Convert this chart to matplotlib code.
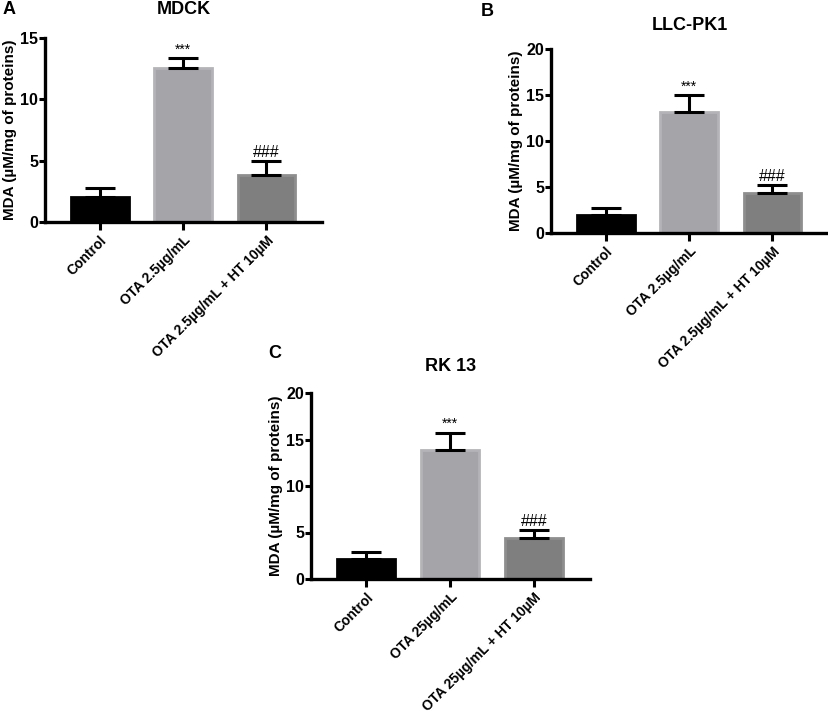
import matplotlib
matplotlib.use("Agg")
import matplotlib.pyplot as plt

plt.rcParams["font.family"] = ["Liberation Sans", "DejaVu Sans"]
plt.rcParams["font.weight"] = "bold"

# values (mean, upper SD)
labels_ab = ["Control", "OTA 2.5µg/mL", "OTA 2.5µg/mL + HT 10µM"]
labels_c = ["Control", "OTA 25µg/mL", "OTA 25µg/mL + HT 10µM"]

mdck_mean = [2.05, 12.55, 3.85]
mdck_err = [0.75, 0.8, 1.15]

llc_mean = [2.0, 13.2, 4.3]
llc_err = [0.75, 1.75, 0.9]

rk_mean = [2.1, 13.9, 4.4]
rk_err = [0.75, 1.85, 0.85]

marks = ["", "***", "###"]

fills = ["#000000", "#a4a4a9", "#7f7f7f"]
edges = ["#000000", "#b4b4b8", "#8e8e8e"]

W, H = 829, 715
fig = plt.figure(figsize=(W / 100, H / 100), dpi=100)


def box(x0, x1, ytop, ybot):
    return [x0 / W, 1 - ybot / H, (x1 - x0) / W, (ybot - ytop) / H]


def panel(rect, means, errs, labels, title, ymax, ystep, tpad):
    ax = fig.add_axes(rect)
    x = range(len(means))
    ax.bar(x, means, width=0.69, color=fills, edgecolor=edges, linewidth=2, zorder=2)
    ax.errorbar(x, means, yerr=[[0] * len(errs), errs], fmt="none", ecolor="black",
                elinewidth=2.2, capsize=10.5, capthick=2.2, zorder=3)
    for i, (m, e, t) in enumerate(zip(means, errs, marks)):
        if t == "***":
            ax.text(i, m + e + ymax * 0.008, t, ha="center", va="bottom", fontsize=10,
                    fontweight="normal")
        elif t:
            ax.text(i, m + e + ymax * 0.004, t, ha="center", va="bottom", fontsize=11.5,
                    fontweight="normal")
    ax.set_xlim(-0.66, 2.67)
    ax.set_ylim(0, ymax)
    ax.set_yticks(range(0, ymax + 1, ystep))
    ax.set_xticks(list(x))
    ax.set_xticklabels(labels, rotation=45, ha="right", rotation_mode="anchor",
                       fontsize=10, fontweight="bold")
    for s in ["top", "right"]:
        ax.spines[s].set_visible(False)
    for s in ["left", "bottom"]:
        ax.spines[s].set_linewidth(2.4)
    ax.tick_params(axis="y", length=4, width=2.2, labelsize=11.5, pad=1)
    ax.tick_params(axis="x", length=6, width=2.2, pad=2)
    for lb in ax.get_yticklabels():
        lb.set_fontweight("bold")
    ax.set_ylabel("MDA (µM/mg of proteins)", fontsize=11, fontweight="bold", labelpad=2)
    ax.set_title(title, fontsize=13, fontweight="bold", pad=tpad)
    return ax


axA = panel(box(45, 322, 38, 222), mdck_mean, mdck_err, labels_ab, "MDCK", 15, 5, 17)
axB = panel(box(551, 828, 49, 233), llc_mean, llc_err, labels_ab, "LLC-PK1", 20, 5, 14)
axC = panel(box(311, 590, 393, 579), rk_mean, rk_err, labels_c, "RK 13", 20, 5, 16)

fig.text(3 / W, 1 - 10 / H, "A", fontsize=13, fontweight="bold", va="center")
fig.text(481 / W, 1 - 11 / H, "B", fontsize=13, fontweight="bold", va="center")
fig.text(268 / W, 1 - 354 / H, "C", fontsize=13, fontweight="bold", va="center")

fig.savefig("out.png", dpi=100)
